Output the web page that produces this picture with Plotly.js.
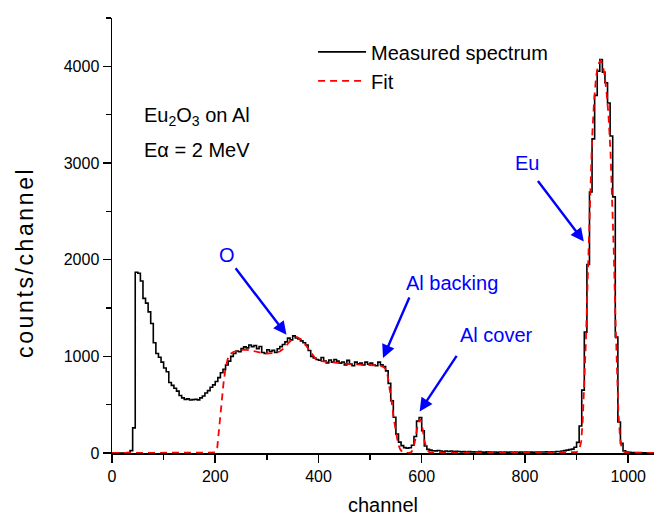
<!DOCTYPE html>
<html>
<head>
<meta charset="utf-8">
<script src="https://cdn.plot.ly/plotly-3.0.1.min.js"></script>
<style>
html,body{margin:0;padding:0;background:#fff;}
#chart .annotation[data-index="0"] text{letter-spacing:2.6px;}
</style>
</head>
<body>
<div id="chart" style="width:654px;height:517px;"></div>
<script>
// Measured spectrum: counts per 5-channel bin, bins starting at channel 0, 5, 10, ...
const BIN_WIDTH = 5;
const measuredCounts = [
  0, 0, 0, 0, 0, 2, 5, 25, 260, 1870,                 // 0-45
  1860, 1780, 1600, 1550, 1460, 1340, 1140, 1030, 990, 940, // 50-95
  880, 840, 730, 700, 670, 640, 595, 570, 555, 560,    // 100-145
  548, 552, 556, 550, 570, 590, 620, 645, 680, 705,    // 150-195
  740, 780, 830, 865, 910, 950, 1000, 1030, 1055, 1048, // 200-245
  1080, 1098, 1088, 1118, 1100, 1112, 1080, 1102, 1040, 1030, // 250-295
  1068, 1050, 1062, 1040, 1078, 1100, 1122, 1150, 1188, 1170, // 300-345
  1212, 1190, 1180, 1160, 1140, 1118, 1060, 1000, 982, 968,   // 350-395
  960, 988, 950, 932, 962, 940, 968, 950, 930, 942,    // 400-445
  912, 958, 920, 902, 940, 922, 930, 910, 940, 918,    // 450-495
  930, 910, 902, 940, 912, 895, 850, 720, 540, 370,    // 500-545
  195, 112, 76, 56, 50, 55, 80, 170, 330, 368,         // 550-595
  230, 72, 38, 30, 24, 22, 26, 20, 16, 20,             // 600-645
  15, 20, 14, 18, 15, 12, 15, 10, 14, 10,              // 650-695
  12, 10, 14, 9, 8, 12, 10, 8, 10, 8,                  // 700-745
  10, 8, 10, 7, 10, 8, 9, 8, 10, 8,                    // 750-795
  10, 8, 9, 8, 10, 9, 10, 10, 12, 10,                  // 800-845
  12, 10, 15, 15, 20, 25, 30, 35, 40, 60,              // 850-895
  110, 280, 650, 1250, 1950, 2700, 3250, 3700, 3950, 4070, // 900-945
  3940, 3830, 3620, 3280, 2650, 1200, 320, 100, 22, 10,    // 950-995
  6, 5, 5, 4, 4, 3, 3, 3, 2, 2                         // 1000-1045
];

// Fit curve
const fitChannels = [0, 100, 195, 200, 204, 208, 212, 216, 220, 224, 228, 235, 245, 255, 265, 275, 285, 295, 305, 315, 325, 335, 342, 350, 358, 365, 372, 380, 388, 395, 405, 420, 440, 460, 480, 500, 515, 525, 530, 534, 538, 542, 546, 550, 554, 558, 562, 566, 574, 580, 584, 588, 592, 596, 599, 602, 606, 610, 615, 625, 700, 800, 890, 900, 905, 909, 912, 915, 918, 921, 924, 927, 930, 934, 938, 942, 946, 950, 954, 958, 962, 966, 969, 972, 975, 978, 981, 984, 987, 990, 995, 1010, 1050];
const fitCounts   = [0, 0, 0, 5, 60, 250, 500, 720, 880, 970, 1020, 1045, 1060, 1070, 1065, 1055, 1040, 1030, 1030, 1035, 1050, 1090, 1140, 1180, 1200, 1180, 1140, 1080, 1010, 970, 950, 940, 930, 920, 915, 910, 905, 895, 870, 800, 680, 520, 350, 200, 100, 40, 12, 2, 0, 8, 50, 150, 280, 350, 330, 240, 110, 35, 8, 4, 4, 4, 5, 8, 30, 120, 350, 700, 1150, 1700, 2300, 2850, 3250, 3650, 3900, 4020, 4060, 4030, 3920, 3740, 3480, 3080, 2650, 2100, 1450, 850, 420, 180, 60, 20, 5, 2, 0];

const xTickLabels = ['0', '200', '400', '600', '800', '1000'];
const yTickLabels = ['0', '1000', '2000', '3000', '4000'];
const xTickVals = [0, 200, 400, 600, 800, 1000];
const yTickVals = [0, 1000, 2000, 3000, 4000];

const measuredX = measuredCounts.map((_, i) => i * BIN_WIDTH);
measuredX.push(measuredCounts.length * BIN_WIDTH);
const measuredY = measuredCounts.concat([measuredCounts[measuredCounts.length - 1]]);

const traces = [
  {
    x: measuredX, y: measuredY, type: 'scatter', mode: 'lines',
    line: {shape: 'hv', color: '#000000', width: 1.6},
    name: 'Measured spectrum', hoverinfo: 'skip'
  },
  {
    x: fitChannels, y: fitCounts, type: 'scatter', mode: 'lines',
    line: {color: '#ff0000', width: 1.8, dash: '7px,5px'},
    name: 'Fit', hoverinfo: 'skip'
  }
];

const FONT = 'Liberation Sans, Arial, Helvetica, sans-serif';
const BLUE = '#0000ff';

function arrow(x, y, ax, ay) {
  return {x: x, y: y, xref: 'x', yref: 'y', ax: ax, ay: ay, text: '',
    showarrow: true, arrowcolor: BLUE, arrowwidth: 2.4, arrowhead: 2, arrowsize: 1.1, standoff: 0};
}
function label(x, y, t) {
  return {x: x, y: y, xref: 'x', yref: 'y', text: t, showarrow: false,
    font: {family: FONT, size: 20, color: BLUE}, xanchor: 'center', yanchor: 'middle'};
}

const layout = {
  width: 654, height: 517,
  margin: {l: 112, r: 0, t: 18, b: 64},
  paper_bgcolor: '#ffffff', plot_bgcolor: '#ffffff',
  font: {family: FONT, color: '#000000'},
  showlegend: true,
  legend: {x: 0.371, y: 0.967, xanchor: 'left', yanchor: 'top',
    font: {family: FONT, size: 20, color: '#000'}, bgcolor: 'rgba(0,0,0,0)', itemwidth: 48, tracegroupgap: 0},
  xaxis: {
    range: [0, 1050], showgrid: false, zeroline: false,
    showline: true, linecolor: '#000', linewidth: 1.5,
    ticks: 'outside', ticklen: 8, tickwidth: 1.5, tickcolor: '#000',
    tickmode: 'array', tickvals: xTickVals, ticktext: xTickLabels,
    tickfont: {family: FONT, size: 16, color: '#000'},
    minor: {dtick: 100, tick0: 0, ticks: 'outside', ticklen: 5, tickwidth: 1.5, tickcolor: '#000', showgrid: false},
    title: {text: 'channel', font: {family: FONT, size: 20, color: '#000'}, standoff: 14}
  },
  yaxis: {
    range: [0, 4500], showgrid: false, zeroline: false,
    showline: true, linecolor: '#000', linewidth: 1.5,
    ticks: 'outside', ticklen: 8, tickwidth: 1.5, tickcolor: '#000',
    tickmode: 'array', tickvals: yTickVals, ticktext: yTickLabels,
    tickfont: {family: FONT, size: 16, color: '#000'},
    minor: {dtick: 500, tick0: 0, ticks: 'outside', ticklen: 5, tickwidth: 1.5, tickcolor: '#000', showgrid: false}
  },
  annotations: [
    // y-axis title (index 0, letter-spaced via CSS)
    {xref: 'paper', yref: 'paper', x: 0, y: 0.4375, xshift: -87, xanchor: 'center', yanchor: 'middle',
     textangle: -90, showarrow: false, text: 'counts/channel', font: {family: FONT, size: 23, color: '#000'}},
    {xref: 'paper', yref: 'paper', x: 0.056, y: 0.773, xanchor: 'left', yanchor: 'middle', showarrow: false,
     text: 'Eu<sub>2</sub>O<sub>3</sub> on Al', font: {family: FONT, size: 20, color: '#000'}},
    {xref: 'paper', yref: 'paper', x: 0.056, y: 0.697, xanchor: 'left', yanchor: 'middle', showarrow: false,
     text: 'E\u03b1 = 2 MeV', font: {family: FONT, size: 20, color: '#000'}},
    label(222, 2051, 'O'),
    arrow(338, 1223, -52, -68),
    label(658, 1761, 'Al backing'),
    arrow(525, 982, 27, -62),
    label(745, 1225, 'Al cover'),
    arrow(596, 430, 38, -57),
    label(803, 3002, 'Eu'),
    arrow(914, 2188, -47, -62)
  ]
};

Plotly.newPlot('chart', traces, layout, {staticPlot: true, displayModeBar: false});
</script>
</body>
</html>
